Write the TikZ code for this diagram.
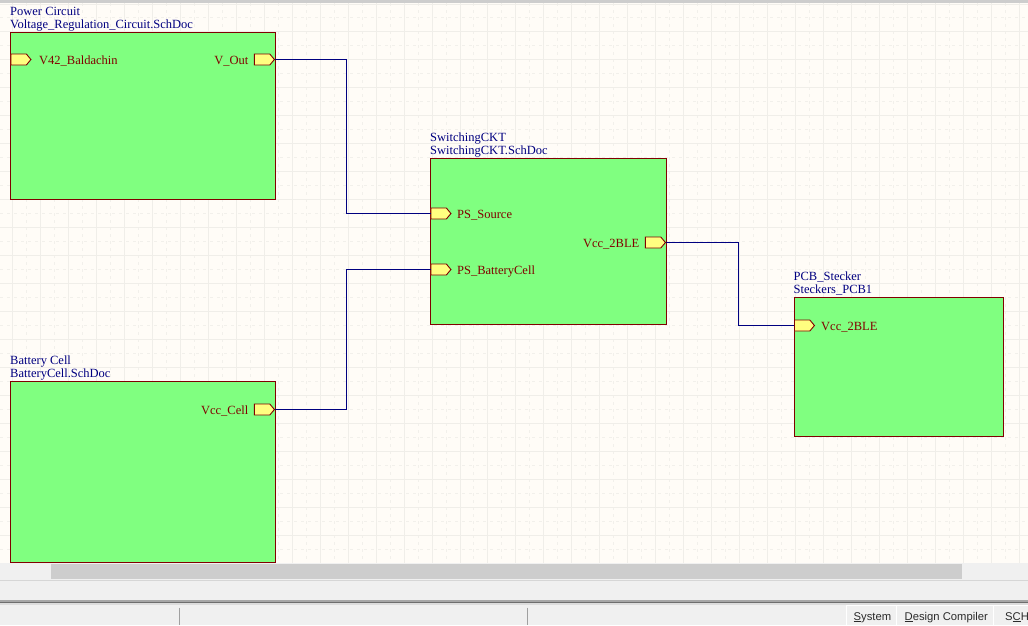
\documentclass[tikz,border=0pt]{standalone}
\usepackage{fontspec}
\setmainfont{Liberation Serif}
\newfontfamily\uifont{Liberation Sans}
\usetikzlibrary{shapes.symbols}
\definecolor{canvasc}{HTML}{FFFCF7}
\definecolor{gridc}{HTML}{F0EEE9}
\definecolor{gridd}{HTML}{F2F0EB}
\definecolor{sheetfill}{HTML}{80FF80}
\definecolor{sheetline}{HTML}{800000}
\definecolor{portfill}{HTML}{FFFF80}
\definecolor{wirec}{HTML}{000080}
\definecolor{titlec}{HTML}{000080}
\definecolor{uibg}{HTML}{F0F0F0}
\definecolor{thumbc}{HTML}{CDCDCD}
\definecolor{uitext}{HTML}{2B2B2B}
\definecolor{uiline}{HTML}{D6D6D6}
\definecolor{uigrayA}{HTML}{A6A6A6}
\definecolor{uigrayB}{HTML}{6E6E6E}
\definecolor{uigrayC}{HTML}{DCDCDC}
\definecolor{uisep}{HTML}{A0A0A0}
\tikzset{
  sheet/.style={draw=sheetline, line width=1pt, fill=sheetfill, anchor=north west, inner sep=0pt},
  title/.style={text=titlec, anchor=base west, inner sep=0pt, font=\fontsize{12.5}{13}\selectfont},
  portlabel/.style={text=sheetline, inner sep=0pt, font=\fontsize{12.5}{13}\selectfont},
  port/.style={shape=signal, signal to=east, signal pointer angle=100, draw=sheetline, line width=0.9pt,
    fill=portfill, minimum width=20pt, minimum height=11pt, inner sep=0pt},
  wire/.style={draw=wirec, line width=1pt},
  majorgrid/.style={draw=gridc, line width=1pt},
  minorgrid/.style={draw=gridd, line width=1pt, dash pattern=on 3pt off 4pt},
  tablabel/.style={text=uitext, anchor=base west, inner sep=0pt, font=\uifont\fontsize{11.25}{12}\selectfont}
}
\begin{document}
\begin{tikzpicture}[x=1pt,y=-1pt]
\useasboundingbox (0,0) rectangle (1028,625);
% top bar
\fill[thumbc] (0,0) rectangle (1028,3);
% canvas with grid
\begin{scope}
\clip (0,3) rectangle (1028,563);
\fill[canvasc] (0,3) rectangle (1028,563);
\foreach \i in {0,...,37} {
  \draw[majorgrid] ({12.8+27.95*\i},3) -- ({12.8+27.95*\i},563);
  \draw[minorgrid] ({-1.175+27.95*\i},3) -- ({-1.175+27.95*\i},563);
}
\foreach \i in {0,...,20} {
  \draw[majorgrid] (0,{4+27.95*\i}) -- (1028,{4+27.95*\i});
  \draw[minorgrid] (0,{17.975+27.95*\i}) -- (1028,{17.975+27.95*\i});
}
\end{scope}

% sheets
\node[sheet, minimum width=265pt, minimum height=167pt] (pc) at (10,32) {};
\node[title] (pcT1) at (10,15) {Power Circuit};
\node[title] (pcT2) at (10,28) {Voltage\_Regulation\_Circuit.SchDoc};

\node[sheet, minimum width=236pt, minimum height=166pt] (sc) at (430,158) {};
\node[title] (scT1) at (430,141) {SwitchingCKT};
\node[title] (scT2) at (430,154) {SwitchingCKT.SchDoc};

\node[sheet, minimum width=209pt, minimum height=139pt] (ps) at (793.5,297) {};
\node[title] (psT1) at (793.5,280) {PCB\_Stecker};
\node[title] (psT2) at (793.5,293) {Steckers\_PCB1};

\node[sheet, minimum width=265pt, minimum height=181pt] (bc) at (10,381) {};
\node[title] (bcT1) at (10,364) {Battery Cell};
\node[title] (bcT2) at (10,377) {BatteryCell.SchDoc};

% ports
\node[port, anchor=west] (pcIn) at (10.5,59.5) {};
\node[portlabel, anchor=base west] (pcInL) at (39,64) {V42\_Baldachin};
\node[port, anchor=east] (pcOut) at (275,59.5) {};
\node[portlabel, anchor=base east] (pcOutL) at (248.5,64) {V\_Out};

\node[port, anchor=west] (scSrc) at (430.5,213.5) {};
\node[portlabel, anchor=base west] (scSrcL) at (457,218) {PS\_Source};
\node[port, anchor=west] (scBat) at (430.5,269.5) {};
\node[portlabel, anchor=base west] (scBatL) at (457,274) {PS\_BatteryCell};
\node[port, anchor=east] (scVcc) at (666,242.5) {};
\node[portlabel, anchor=base east] (scVccL) at (639.5,247) {Vcc\_2BLE};

\node[port, anchor=west] (psVcc) at (794,325.5) {};
\node[portlabel, anchor=base west] (psVccL) at (821,330) {Vcc\_2BLE};

\node[port, anchor=east] (bcVcc) at (275,409.5) {};
\node[portlabel, anchor=base east] (bcVccL) at (248.5,414) {Vcc\_Cell};

% wires
\coordinate (j1) at (346,59.5);
\coordinate (j2) at (346,409.5);
\coordinate (j3) at (738,242.5);
\draw[wire] (pcOut.east) -- (j1) |- (scSrc.west);
\draw[wire] (bcVcc.east) -- (j2) |- (scBat.west);
\draw[wire] (scVcc.east) -- (j3) |- (psVcc.west);

% bottom UI
\fill[uibg] (0,563) rectangle (1028,625);
\fill[thumbc] (51,564) rectangle (962,578.5);
\draw[draw=uiline, line width=1pt] (0,580.5) -- (1028,580.5);
\fill[uigrayA] (0,600) rectangle (1028,602.3);
\fill[uigrayB] (0,602.3) rectangle (1028,603.3);
\fill[uigrayC] (0,603.3) rectangle (1028,604.5);
\draw[draw=uisep, line width=1pt] (179.5,607.5) -- (179.5,625);
\draw[draw=uisep, line width=1pt] (527.5,607.5) -- (527.5,625);
\draw[draw=white, line width=1pt] (846.7,625) -- (846.7,605.2) -- (1028,605.2);
\draw[draw=white, line width=1pt] (896.7,605.2) -- (896.7,625);
\draw[draw=white, line width=1pt] (993.3,605.2) -- (993.3,625);
\node[tablabel] (tabSys) at (853.5,620) {\underline{S}ystem};
\node[tablabel] (tabDC) at (904.5,620) {\underline{D}esign Compiler};
\node[tablabel] (tabSch) at (1005,620) {S\underline{C}H};
\end{tikzpicture}
\end{document}
